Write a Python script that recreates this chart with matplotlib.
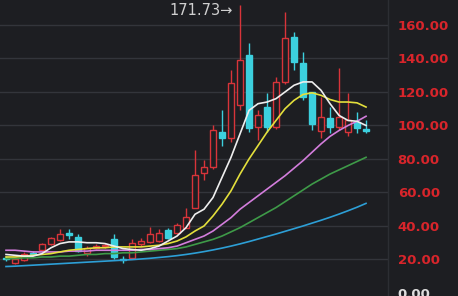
import matplotlib
matplotlib.use("Agg")
import matplotlib.pyplot as plt
import numpy as np

# ---- data ----
opens = [21, 18, 19.5, 24, 25.5, 29, 31.5, 36, 33.5, 24, 27, 28, 32.5, 20.5, 21, 29.5, 30.5, 31, 37.5, 36,
         39, 51, 71.5, 75, 96, 92.5, 112, 142, 99, 111, 99, 126, 152.8, 137.3, 120, 96.5, 104.5, 99, 96, 102, 98]
closes = [20.5, 20, 23, 23.5, 29, 33, 35.5, 34.5, 25, 27, 28, 28.5, 21.5, 19.8, 30, 31, 35, 36, 33, 40.5,
          45.5, 70.5, 75, 97.5, 92.5, 125.4, 139, 98.5, 106.3, 99, 126, 152.2, 137.9, 117, 101, 105, 99, 105, 103, 98.5, 96.5]
highs = [22, 20.5, 24.5, 25, 30, 33.5, 38, 38, 35, 28, 29.5, 30, 35, 22, 32, 33, 39.5, 38, 38.5, 42,
         50.5, 85.5, 79.5, 100.5, 109, 133, 171.73, 149.3, 109.3, 119.4, 129, 167.8, 155.8, 143.9, 120, 117, 111, 134.3, 119.4, 108, 103]
lows = [19, 17.5, 19, 22.5, 25, 28.5, 31, 32, 24.5, 22, 26, 27, 20, 18, 20.5, 28, 30, 30.5, 32, 35,
        38.5, 50.5, 67.5, 74, 88, 90, 109, 96, 91.3, 96, 98, 125, 133.1, 115.2, 97.3, 92.5, 95.5, 97, 94, 95.5, 95.5]

ma5 = [23, 22.5, 22, 22, 23.5, 27, 29.5, 30.5, 30.5, 30, 30, 29.5, 28, 26.5, 26, 25.5, 26.5, 28, 31, 34,
       39, 47, 50, 57, 69, 81, 95, 109, 113, 114, 116, 120, 124, 126, 126, 121, 113, 106, 103, 102.5, 100]
ma10 = [21.5, 21.5, 22, 22.5, 23, 23.5, 24.5, 25.5, 26, 26.5, 27, 27, 27.5, 27.5, 27.5, 27.5, 28, 28.5, 29.5, 31,
        33.5, 37, 40, 46, 53, 61, 71, 80, 88, 96, 103, 110, 115, 118.5, 119.5, 118, 115.5, 114, 114, 113.5, 111]
ma20 = [25.5, 25.5, 25, 24.5, 24.5, 24.5, 24.5, 25, 25, 25, 25.5, 25.5, 25.5, 25.5, 25.5, 26, 26, 26.5, 27, 28,
        30, 32, 34, 37, 41, 45, 50, 54, 58, 62, 66, 70, 74.5, 79, 84, 89, 93.5, 97, 100, 102.5, 105.5]
ma30 = [20.5, 20.5, 21, 21, 21.5, 21.5, 22, 22, 22.5, 23, 23, 23.5, 23.5, 24, 24, 24.5, 25, 25.5, 26, 26.5,
        27.5, 29, 30.5, 32, 34, 36.5, 39, 42, 45, 48, 51, 54.5, 58, 61.5, 65, 68, 71, 73.5, 76, 78.5, 81]
ma60 = [15.8, 16, 16.3, 16.6, 16.9, 17.2, 17.5, 17.8, 18.1, 18.4, 18.7, 19, 19.3, 19.6, 19.9, 20.3, 20.7, 21.2, 21.7, 22.3,
        23, 23.8, 24.7, 25.7, 26.8, 28, 29.3, 30.7, 32.2, 33.7, 35.2, 36.8, 38.4, 40, 41.7, 43.4, 45.2, 47.1, 49.1, 51.2, 53.5]

tick_vals = [0, 20, 40, 60, 80, 100, 120, 140, 160]
tick_labels = ["0.00", "20.00", "40.00", "60.00", "80.00", "100.00", "120.00", "140.00", "160.00"]
peak_label = "171.73"

# ---- style ----
BG = "#1d1e22"
UP = "#d8343a"
DOWN = "#3cd0de"
GRID = "#33353b"

W, H = 458, 296
fig = plt.figure(figsize=(W / 100, H / 100), dpi=100, facecolor=BG)
ax = fig.add_axes([0, 0, 388 / W, 1.0])
ax.set_facecolor(BG)

n = len(opens)
x = np.arange(n)
ax.set_xlim(-0.667, 42.44)
ax.set_ylim(-1.8, 174.9)

for v in tick_vals[1:]:
    ax.axhline(v, color=GRID, lw=1.0, zorder=0)

o = np.array(opens); c = np.array(closes)
up = c >= o
cols = np.where(up, UP, DOWN)
ax.vlines(x, lows, highs, colors=cols, lw=1.0, zorder=2)
bottom = np.minimum(o, c)
height = np.maximum(np.abs(c - o), 0.6)
ax.bar(x[up], height[up], bottom=bottom[up], width=0.64, facecolor=BG,
       edgecolor=UP, linewidth=1.0, zorder=3)
ax.bar(x[~up], height[~up], bottom=bottom[~up], width=0.64, facecolor=DOWN,
       edgecolor=DOWN, linewidth=1.0, zorder=3)

ax.plot(x, ma60, color="#2d9fd6", lw=1.2, zorder=4)
ax.plot(x, ma30, color="#3e9a48", lw=1.2, zorder=4)
ax.plot(x, ma20, color="#d37ddc", lw=1.2, zorder=4)
ax.plot(x, ma10, color="#e3df3c", lw=1.2, zorder=4)
ax.plot(x, ma5, color="#eeeeee", lw=1.2, zorder=5)

imax = int(np.argmax(highs))
ax.annotate(peak_label + "→", xy=(imax - 0.8, highs[imax] - 3.2), ha="right", va="center",
            color="#d0d0d0", fontsize=10.5)

for s in ax.spines.values():
    s.set_visible(False)
ax.set_xticks([])
ax.yaxis.tick_right()
ax.set_yticks(tick_vals)
ax.set_yticklabels(tick_labels)
ax.tick_params(axis="y", length=0, pad=7, labelsize=9.5)
for lbl, v in zip(ax.get_yticklabels(), tick_vals):
    lbl.set_color("#dddddd" if v == 0 else "#d8252b")
    lbl.set_fontweight("bold")

# separator of the price scale
fig.add_artist(plt.Line2D([388 / W, 388 / W], [0, 1], color="#2c2e33", lw=1.0))

fig.savefig("out.png", dpi=100, facecolor=BG)
